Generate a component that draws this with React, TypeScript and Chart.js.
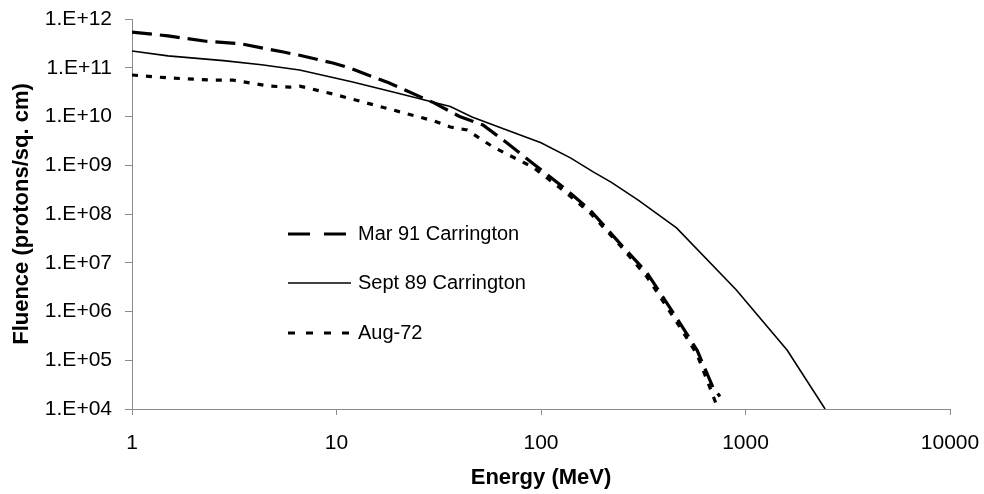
import React, { useEffect, useRef } from "react";
import { Chart, registerables } from "chart.js";

Chart.register(...registerables);

// ---- Data ----
const mar91Energy = [1, 1.5, 2.3, 3.4, 5.5, 6.6, 9.6, 11.6, 18, 30, 40, 52, 68, 91, 128, 174, 243, 330, 478, 580, 693, 750];
const mar91Fluence = [5.4e11, 4.5e11, 3.5e11, 3.1e11, 2.1e11, 1.8e11, 1.25e11, 9.9e10, 4.9e10, 1.9e10, 1.0e10, 6.7e9, 2.9e9, 1.1e9, 3.6e8, 1.2e8, 2.5e7, 6.2e6, 5.8e5, 1.6e5, 2.8e4, 1.8e4];

const sept89Energy = [1, 1.5, 2.8, 4.3, 6.6, 12, 20, 36, 46, 68, 100, 140, 180, 220, 300, 460, 900, 1600, 2450];
const sept89Fluence = [2.2e11, 1.75e11, 1.4e11, 1.15e11, 9e10, 5.1e10, 3e10, 1.6e10, 9.8e9, 5.3e9, 2.9e9, 1.4e9, 7.3e8, 4.5e8, 1.9e8, 5.2e7, 2.8e6, 1.6e5, 1e4];

const aug72Energy = [1, 1.5, 2.4, 3.1, 4.7, 5.9, 6.6, 9.6, 14, 20.5, 30, 36, 43.5, 50, 58, 70, 91, 128, 174, 243, 330, 478, 580, 693, 734];
const aug72Fluence = [7.1e10, 6.2e10, 5.6e10, 5.6e10, 4.2e10, 4.0e10, 4.2e10, 2.9e10, 1.9e10, 1.24e10, 8.1e9, 6.1e9, 5.3e9, 3.6e9, 2.4e9, 1.6e9, 9.2e8, 3.1e8, 1.05e8, 2.3e7, 5.1e6, 4.8e5, 1.3e5, 1.9e4, 1e4];

const seriesLabels = ["Mar 91 Carrington", "Sept 89 Carrington", "Aug-72"];

const xTickValues = [1, 10, 100, 1000, 10000];
const xTickLabels = ["1", "10", "100", "1000", "10000"];
const yTickValues = [1e4, 1e5, 1e6, 1e7, 1e8, 1e9, 1e10, 1e11, 1e12];
const yTickLabels = ["1.E+04", "1.E+05", "1.E+06", "1.E+07", "1.E+08", "1.E+09", "1.E+10", "1.E+11", "1.E+12"];

const xTitle = "Energy (MeV)";
const yTitle = "Fluence (protons/sq. cm)";

const FONT = '"Liberation Sans", Arial, Helvetica, sans-serif';
const AXIS_COLOR = "#8c8c8c";

const toPoints = (xs: number[], ys: number[]) => xs.map((x, i) => ({ x, y: ys[i] }));

const legendDashes = [[22, 14], [], [7, 11]];

const insideLegend = {
  id: "insideLegend",
  afterDatasetsDraw(chart: any) {
    const { ctx, chartArea } = chart;
    const x0 = chartArea.left + 156;
    const x1 = chartArea.left + 219;
    const tx = chartArea.left + 226;
    const ys = [215, 264, 314].map((v) => chartArea.top + v);
    chart.data.datasets.forEach((ds: any, i: number) => {
      ctx.save();
      ctx.strokeStyle = ds.borderColor;
      ctx.lineWidth = ds.borderWidth;
      ctx.lineCap = "butt";
      ctx.setLineDash(legendDashes[i] || []);
      ctx.beginPath();
      ctx.moveTo(x0, ys[i]);
      ctx.lineTo(x1, ys[i]);
      ctx.stroke();
      ctx.setLineDash([]);
      ctx.fillStyle = "#000";
      ctx.font = `20px ${FONT}`;
      ctx.textBaseline = "middle";
      ctx.textAlign = "left";
      ctx.fillText(ds.label, tx, ys[i]);
      ctx.restore();
    });
  },
};

export default function App() {
  const canvasRef = useRef<HTMLCanvasElement | null>(null);

  useEffect(() => {
    document.body.style.margin = "0";
    const canvas = canvasRef.current;
    if (!canvas) return;

    const chart = new Chart(canvas, {
      type: "line",
      data: {
        datasets: [
          {
            label: seriesLabels[0],
            data: toPoints(mar91Energy, mar91Fluence),
            borderColor: "#000",
            borderWidth: 3.2,
            borderDash: [20, 8],
            pointRadius: 0,
            tension: 0,
            fill: false,
          },
          {
            label: seriesLabels[1],
            data: toPoints(sept89Energy, sept89Fluence),
            borderColor: "#000",
            borderWidth: 1.6,
            pointRadius: 0,
            tension: 0,
            fill: false,
          },
          {
            label: seriesLabels[2],
            data: toPoints(aug72Energy, aug72Fluence),
            borderColor: "#000",
            borderWidth: 3.2,
            borderDash: [6, 8],
            pointRadius: 0,
            tension: 0,
            fill: false,
          },
        ],
      },
      options: {
        animation: false,
        responsive: true,
        maintainAspectRatio: false,
        parsing: false as any,
        layout: { padding: { top: 19, right: 34, left: 0, bottom: 0 } },
        plugins: {
          legend: { display: false },
          tooltip: { enabled: false },
        },
        scales: {
          x: {
            type: "logarithmic",
            min: 1,
            max: 10000,
            afterBuildTicks: (scale: any) => {
              scale.ticks = xTickValues.map((v) => ({ value: v }));
            },
            afterFit: (scale: any) => {
              scale.height = 85;
              scale.paddingLeft = 0;
              scale.paddingRight = 0;
            },
            ticks: {
              autoSkip: false,
              maxRotation: 0,
              padding: 16,
              color: "#000",
              font: { family: FONT, size: 21 },
              callback: (_v: any, i: number) => xTickLabels[i],
            },
            grid: {
              display: true,
              drawOnChartArea: false,
              drawTicks: true,
              tickLength: 6,
              color: AXIS_COLOR,
              lineWidth: 1,
            },
            border: { display: true, color: AXIS_COLOR, width: 1 },
            title: {
              display: true,
              text: xTitle,
              color: "#000",
              font: { family: FONT, size: 22, weight: "bold" },
              padding: { top: 0, bottom: 3 },
            },
          },
          y: {
            type: "logarithmic",
            min: 1e4,
            max: 1e12,
            afterBuildTicks: (scale: any) => {
              scale.ticks = yTickValues.map((v) => ({ value: v }));
            },
            afterFit: (scale: any) => {
              scale.width = 132;
              scale.paddingTop = 0;
              scale.paddingBottom = 0;
            },
            ticks: {
              autoSkip: false,
              padding: 13,
              color: "#000",
              font: { family: FONT, size: 21 },
              callback: (_v: any, i: number) => yTickLabels[i],
            },
            grid: {
              display: true,
              drawOnChartArea: false,
              drawTicks: true,
              tickLength: 7,
              color: AXIS_COLOR,
              lineWidth: 1,
            },
            border: { display: true, color: AXIS_COLOR, width: 1 },
            title: {
              display: true,
              text: yTitle,
              color: "#000",
              font: { family: FONT, size: 22, weight: "bold" },
              padding: { top: 9, bottom: 0 },
            },
          },
        },
      },
      plugins: [insideLegend],
    });

    return () => chart.destroy();
  }, []);

  return (
    <div style={{ position: "absolute", left: 0, top: 0, width: 984, height: 494, background: "#fff" }}>
      <canvas ref={canvasRef} />
    </div>
  );
}
